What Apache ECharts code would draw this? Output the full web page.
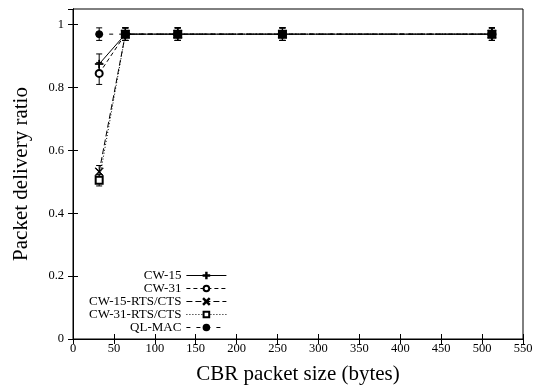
<!DOCTYPE html>
<html>
<head>
<meta charset="utf-8">
<script src="https://cdn.jsdelivr.net/npm/echarts@6/dist/echarts.min.js"></script>
<style>
  html, body { margin: 0; padding: 0; background: #fff; }
  #main { width: 543px; height: 386px; }
</style>
</head>
<body>
<div id="main"></div>
<script>
// packet sizes (bytes)
const sizes = [32, 64, 128, 256, 512];

// mean packet delivery ratio per protocol
const cw15 = [0.875, 0.97, 0.97, 0.97, 0.97];
const cw31 = [0.845, 0.97, 0.97, 0.97, 0.97];
const cw15Rts = [0.532, 0.97, 0.97, 0.97, 0.97];
const cw31Rts = [0.505, 0.97, 0.97, 0.97, 0.97];
const qlMac = [0.97, 0.97, 0.97, 0.97, 0.97];

// error bar half widths
const cw15Err = [0.032, 0.02, 0.02, 0.02, 0.02];
const cw31Err = [0.035, 0.02, 0.02, 0.02, 0.02];
const cw15RtsErr = [0.02, 0.02, 0.02, 0.02, 0.02];
const cw31RtsErr = [0.018, 0.02, 0.02, 0.02, 0.02];
const qlMacErr = [0.02, 0.02, 0.02, 0.02, 0.02];

const xTicks = [0, 50, 100, 150, 200, 250, 300, 350, 400, 450, 500, 550];
const yTicks = [0, 0.2, 0.4, 0.6, 0.8, 1];

const FONT = 'Liberation Serif';

// symbols drawn like gnuplot point types
const plusSym = 'path://M0,4.6H10V5.4H0Z M4.6,0H5.4V10H4.6Z';
const crossSym = 'path://M0.6,0L10,9.4L9.4,10L0,0.6Z M9.4,0L10,0.6L0.6,10L0,9.4Z';

const defs = [
  { name: 'CW-15', vals: cw15, err: cw15Err, dash: 'solid', symbol: plusSym, size: 8 },
  { name: 'CW-31', vals: cw31, err: cw31Err, dash: [4, 3], symbol: 'emptyCircle', size: 7 },
  { name: 'CW-15-RTS/CTS', vals: cw15Rts, err: cw15RtsErr, dash: [6, 3], symbol: crossSym, size: 8 },
  { name: 'CW-31-RTS/CTS', vals: cw31Rts, err: cw31RtsErr, dash: [1, 2], symbol: 'emptyRect', size: 7 },
  { name: 'QL-MAC', vals: qlMac, err: qlMacErr, dash: [4, 6], symbol: 'circle', size: 7 }
];

function errRender(params, api) {
  const x = api.value(0);
  const lo = api.coord([x, api.value(1)]);
  const hi = api.coord([x, api.value(2)]);
  const w = 3;
  const style = { stroke: '#000', lineWidth: 1 };
  return {
    type: 'group',
    children: [
      { type: 'line', shape: { x1: lo[0], y1: lo[1], x2: hi[0], y2: hi[1] }, style: style },
      { type: 'line', shape: { x1: lo[0] - w, y1: lo[1], x2: lo[0] + w, y2: lo[1] }, style: style },
      { type: 'line', shape: { x1: hi[0] - w, y1: hi[1], x2: hi[0] + w, y2: hi[1] }, style: style }
    ]
  };
}

const series = [];
defs.forEach(d => {
  series.push({
    name: d.name,
    type: 'line',
    data: sizes.map((s, i) => [s, d.vals[i]]),
    symbol: d.symbol,
    symbolSize: d.size,
    showAllSymbol: true,
    lineStyle: { color: '#000', width: 1, type: d.dash },
    itemStyle: { color: '#000', borderColor: '#000', borderWidth: 1 },
    animation: false,
    z: 3
  });
  series.push({
    name: d.name,
    type: 'custom',
    renderItem: errRender,
    data: sizes.map((s, i) => [s, d.vals[i] - d.err[i], d.vals[i] + d.err[i]]),
    encode: { x: 0, y: [1, 2] },
    animation: false,
    z: 2
  });
});

const myChart = echarts.init(document.getElementById('main'), null, { renderer: 'canvas' });

const baseX = {
  type: 'value',
  min: 0,
  max: 550,
  interval: 50,
  splitLine: { show: false },
  axisLine: { show: true, lineStyle: { color: '#000', width: 1 } },
  axisTick: { show: true, inside: true, length: 5, lineStyle: { color: '#000' } }
};
const baseY = {
  type: 'value',
  min: 0,
  max: 1.05,
  interval: 0.2,
  splitLine: { show: false },
  axisLine: { show: true, lineStyle: { color: '#000', width: 1 } },
  axisTick: { show: true, inside: true, length: 5, lineStyle: { color: '#000' } }
};

const option = {
  backgroundColor: '#fff',
  animation: false,
  grid: {
    left: 73, right: 20, top: 9, bottom: 47,
    outerBoundsMode: 'none',
    containLabel: false,
    show: true, borderColor: '#000', borderWidth: 1, backgroundColor: 'transparent'
  },
  legend: {
    data: defs.map(d => d.name),
    orient: 'vertical',
    align: 'right',
    left: 84,
    top: 264,
    itemWidth: 40,
    itemHeight: 7,
    itemGap: 0,
    selectedMode: false,
    lineStyle: { width: 1 },
    textStyle: { fontFamily: FONT, fontSize: 13, color: '#000', lineHeight: 13 }
  },
  xAxis: [
    Object.assign({}, baseX, {
      position: 'bottom',
      name: 'CBR packet size (bytes)',
      nameLocation: 'middle',
      nameGap: 25,
      nameTextStyle: { fontFamily: FONT, fontSize: 21, color: '#000' },
      axisLabel: {
        fontFamily: FONT, fontSize: 12.5, color: '#000', margin: 3,
        formatter: v => (xTicks.indexOf(v) >= 0 ? String(v) : '')
      }
    }),
    Object.assign({}, baseX, { position: 'top', axisLabel: { show: false } })
  ],
  yAxis: [
    Object.assign({}, baseY, {
      position: 'left',
      name: 'Packet delivery ratio',
      nameLocation: 'middle',
      nameGap: 41,
      nameTextStyle: { fontFamily: FONT, fontSize: 21, color: '#000' },
      axisLabel: {
        fontFamily: FONT, fontSize: 12.5, color: '#000', margin: 9, showMaxLabel: false,
        formatter: v => {
          const t = yTicks.find(y => Math.abs(y - v) < 1e-6);
          return t === undefined ? '' : String(t);
        }
      }
    }),
    Object.assign({}, baseY, { position: 'right', axisLabel: { show: false } })
  ],
  series: series
};

myChart.setOption(option);
</script>
</body>
</html>
